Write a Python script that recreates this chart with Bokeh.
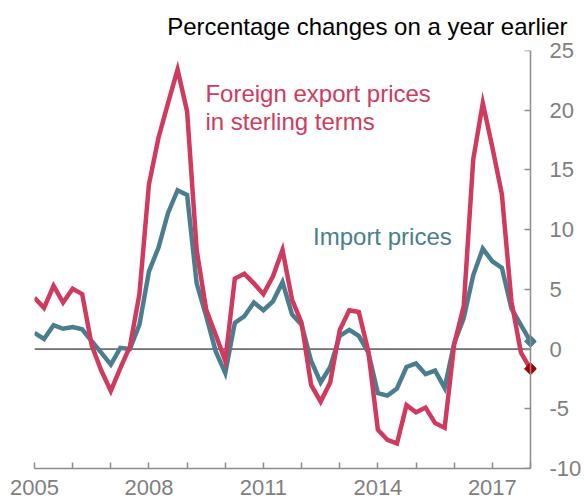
import math
from bokeh.plotting import figure
from bokeh.models import FixedTicker, Label, LinearAxis
from bokeh.embed import file_html
from bokeh.resources import INLINE

# Quarterly observations, 2005 Q1 .. 2018 Q1
quarters = [f"{y} Q{q}" for y in range(2005, 2019) for q in range(1, 5)][:53]

foreign_export_prices = [
    4.3, 3.45, 5.3, 3.9, 5.05, 4.6, 0.3, -1.8, -3.5, -1.6, 0.2,
    4.6, 13.8, 17.7, 20.6, 23.4, 19.9, 8.3, 3.3, 1.2, -1.0,
    5.9, 6.3, 5.5, 4.6, 6.1, 8.3, 4.15, 2.2, -3.0, -4.4,
    -2.8, 1.6, 3.25, 3.1, -0.2, -6.75, -7.6, -7.9, -4.7, -5.3,
    -4.9, -6.2, -6.6, 0.4, 3.6, 15.9, 20.6, 16.9, 12.95, 4.0,
    -0.3, -1.65,
]

import_prices = [
    1.35, 0.85, 2.0, 1.7, 1.85, 1.65, 0.65, -0.3, -1.3, 0.1, 0.0,
    2.05, 6.5, 8.5, 11.4, 13.3, 12.9, 5.5, 2.75, -0.2, -2.0,
    2.2, 2.75, 3.9, 3.25, 4.0, 5.6, 2.9, 2.05, -1.0, -2.8,
    -1.5, 1.1, 1.6, 1.1, -0.3, -3.7, -3.9, -3.3, -1.5, -1.2,
    -2.1, -1.8, -3.25, 0.5, 2.6, 6.2, 8.4, 7.35, 6.8, 3.4,
    2.0, 0.65,
]

x_tick_years = list(range(2005, 2019))
x_label_years = [2005, 2008, 2011, 2014, 2017]
y_ticks = [-10, -5, 0, 5, 10, 15, 20, 25]
y_tick_labels = ["-10", "-5", "0", "5", "10", "15", "20", "25"]

RED = "#D03A5E"
TEAL = "#4A7E8E"
DARK_RED = "#9E0000"
GREY = "#8C8C8C"
LABEL_GREY = "#7F7F7F"
FONT = "Liberation Sans"

xpos = [int(s[:4]) + (int(s[-1]) - 1) / 4 for s in quarters]

x_start, x_end = x_tick_years[0], x_tick_years[-1]
# a little room to the right of the last year so the end markers are not cut
x_pad = 13 * 6 / 496

p = figure(
    width=584, height=504,
    x_range=(x_start, x_end + x_pad), y_range=(y_ticks[0], y_ticks[-1]),
    output_backend="svg", toolbar_location=None,
    y_axis_location="right",
    min_border_left=34, min_border_right=48,
    min_border_top=49, min_border_bottom=36,
)
p.outline_line_color = None
p.grid.visible = False
p.background_fill_color = "white"

p.title.text = "Percentage changes on a year earlier"
p.title.align = "right"
p.title.offset = -31
p.title.text_font = FONT
p.title.text_font_size = "24px"
p.title.text_font_style = "normal"
p.title.text_color = "black"
p.title.standoff = 21

# zero line
p.segment(x0=[x_start], x1=[x_end], y0=[0], y1=[0], line_color="black", line_width=1)

p.line(xpos, import_prices, line_color=TEAL, line_width=4.5, line_join="miter")
p.line(xpos, foreign_export_prices, line_color=RED, line_width=4.5, line_join="miter")

p.scatter([xpos[-1]], [import_prices[-1]], marker="square", angle=math.pi / 4,
          size=8.5, fill_color=TEAL, line_color=TEAL)
p.scatter([xpos[-1]], [foreign_export_prices[-1]], marker="square", angle=math.pi / 4,
          size=8.5, fill_color=DARK_RED, line_color=DARK_RED)

# bottom axis
xa = p.xaxis[0]
xa.ticker = FixedTicker(ticks=x_tick_years)
xa.bounds = (x_start, x_end)
xa.major_label_overrides = {y: (str(y) if y in x_label_years else "") for y in x_tick_years}
xa.major_tick_in = 6
xa.major_tick_out = 0
xa.minor_tick_line_color = None
xa.axis_line_color = GREY
xa.axis_line_width = 1.5
xa.major_tick_line_color = GREY
xa.major_tick_line_width = 1.5
xa.major_label_text_color = LABEL_GREY
xa.major_label_text_font = FONT
xa.major_label_text_font_size = "22px"
xa.major_label_standoff = 11

# right axis: labels (in the side panel)
ya = p.yaxis[0]
ya.ticker = FixedTicker(ticks=y_ticks)
ya.major_label_overrides = dict(zip(y_ticks, y_tick_labels))
ya.axis_line_color = None
ya.major_tick_line_color = None
ya.minor_tick_line_color = None
ya.major_tick_in = 0
ya.major_tick_out = 0
ya.major_label_text_color = LABEL_GREY
ya.major_label_text_font = FONT
ya.major_label_text_font_size = "22px"
ya.major_label_standoff = 13

# right axis: line and inward ticks at the last year
ya_line = LinearAxis(
    ticker=FixedTicker(ticks=y_ticks),
    fixed_location=x_end,
    axis_line_color=GREY, axis_line_width=1.5,
    major_tick_line_color=GREY, major_tick_line_width=1.5,
    major_tick_in=6, major_tick_out=0,
    minor_tick_line_color=None,
    major_label_text_color=None,
    major_label_text_font_size="1px",
)
p.add_layout(ya_line, "right")

p.add_layout(Label(x=2009.48, y=21.38, text="Foreign export prices", text_color=RED,
                   text_font=FONT, text_font_size="24px", text_baseline="alphabetic"))
p.add_layout(Label(x=2009.48, y=19.04, text="in sterling terms", text_color=RED,
                   text_font=FONT, text_font_size="24px", text_baseline="alphabetic"))
p.add_layout(Label(x=2012.30, y=9.42, text="Import prices", text_color=TEAL,
                   text_font=FONT, text_font_size="24px", text_baseline="alphabetic"))

open("out.html", "w").write(file_html(p, INLINE))
